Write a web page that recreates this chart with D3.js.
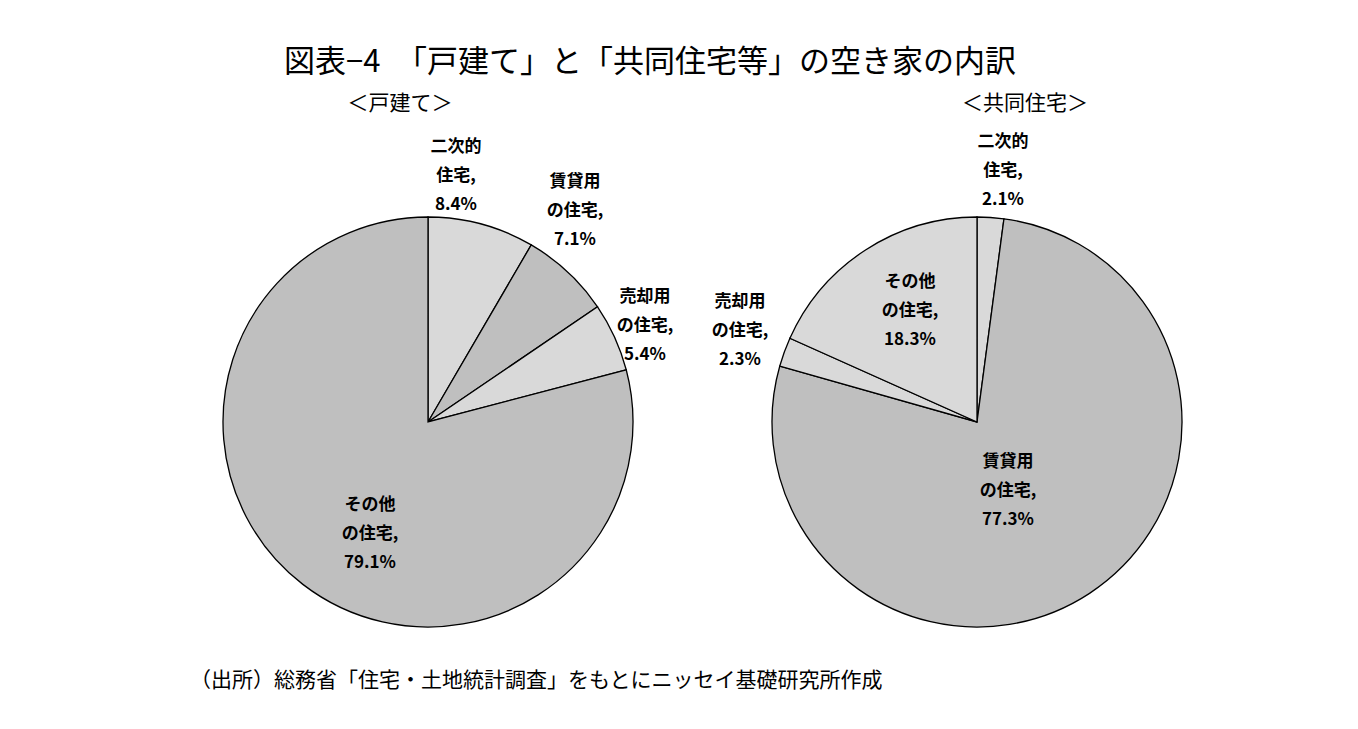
<!DOCTYPE html>
<html><head><meta charset="utf-8">
<script src="https://cdn.jsdelivr.net/npm/d3@7"></script>
<style>body{margin:0;background:#fff}svg{font-family:"Noto Sans CJK JP",sans-serif}</style>
</head><body><svg id="c" width="1358" height="729"></svg>
<script>
const categories=["二次的住宅","賃貸用の住宅","売却用の住宅","その他の住宅"];
const detachedValues=[8.4,7.1,5.4,79.1];
const apartmentValues=[2.1,77.3,2.3,18.3];
const detachedColors=["#d9d9d9","#bfbfbf","#d9d9d9","#bfbfbf"];
const apartmentColors=["#d9d9d9","#bfbfbf","#d9d9d9","#d9d9d9"];
const detachedLabels=[["二次的","住宅,","8.4%"],["賃貸用","の住宅,","7.1%"],["売却用","の住宅,","5.4%"],["その他","の住宅,","79.1%"]];
const apartmentLabels=[["二次的","住宅,","2.1%"],["賃貸用","の住宅,","77.3%"],["売却用","の住宅,","2.3%"],["その他","の住宅,","18.3%"]];
const detachedLabelOffsets=[[28,-247],[147,-212],[217,-97],[-58,111]];
const apartmentLabelOffsets=[[26,-252],[31,68],[-237,-92],[-67,-112]];
const svg=d3.select("#c");
svg.append("text").attr("x",650).attr("y",72).attr("text-anchor","middle").attr("font-size",31).text("図表−4　「戸建て」と「共同住宅等」の空き家の内訳");
svg.append("text").attr("x",400).attr("y",110).attr("text-anchor","middle").attr("font-size",21).text("＜戸建て＞");
svg.append("text").attr("x",1025).attr("y",110).attr("text-anchor","middle").attr("font-size",21).text("＜共同住宅＞");
svg.append("text").attr("x",190).attr("y",687).attr("font-size",21).text("（出所）総務省「住宅・土地統計調査」をもとにニッセイ基礎研究所作成");
function pie(cx,cy,vals,cols,labels,offs){
  const g=svg.append("g").attr("transform",`translate(${cx},${cy})`);
  const arcs=d3.pie().sort(null)(vals);
  const arc=d3.arc().innerRadius(0).outerRadius(205);
  g.selectAll("path").data(arcs).join("path").attr("d",arc).attr("fill",(d,i)=>cols[i]).attr("stroke","#000").attr("stroke-width",1.3);
  labels.forEach((L,i)=>{
    const t=g.append("text").attr("text-anchor","middle").attr("font-size",17).attr("font-weight","bold");
    L.forEach((s,j)=>t.append("tspan").attr("x",offs[i][0]).attr("y",offs[i][1]+(j-1)*29+6).text(s));
  });
}
pie(428,422,detachedValues,detachedColors,detachedLabels,detachedLabelOffsets);
pie(977,422,apartmentValues,apartmentColors,apartmentLabels,apartmentLabelOffsets);
</script></body></html>
